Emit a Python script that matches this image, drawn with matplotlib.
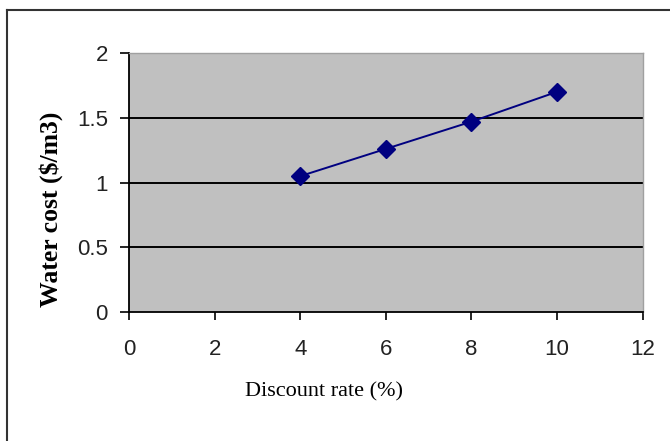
import matplotlib
matplotlib.use('Agg')
import matplotlib.pyplot as plt
from matplotlib.lines import Line2D

# discount rate (%) vs. water cost ($/m3)
rates = [4, 6, 8, 10]
costs = [1.05, 1.26, 1.47, 1.70]
x_ticks = [0, 2, 4, 6, 8, 10, 12]
y_ticks = [0, 0.5, 1, 1.5, 2]
y_labels = ['0', '0.5', '1', '1.5', '2']

tick_font = ['Liberation Sans', 'DejaVu Sans']

fig = plt.figure(figsize=(6.7, 4.41), dpi=100)
fig.patch.set_facecolor('white')
ax = fig.add_axes([0.193, 0.292, 0.766, 0.588])
ax.set_facecolor('#c0c0c0')

# horizontal gridlines in black, like the old Excel default
for y in y_ticks[1:-1]:
    ax.axhline(y, color='black', linewidth=1.4, zorder=1)

ax.plot(rates, costs, color='#000080', linewidth=1.4, marker='D',
        markersize=9.5, markerfacecolor='#000080', markeredgecolor='#000080',
        zorder=3)

ax.set_xlim(0, 12)
ax.set_ylim(0, 2)
ax.set_xticks(x_ticks)
ax.set_xticklabels([str(t) for t in x_ticks], family=tick_font, fontsize=16)
ax.set_yticks(y_ticks)
ax.set_yticklabels(y_labels, family=tick_font, fontsize=16)
ax.tick_params(axis='x', direction='out', length=6, width=1.2, pad=13,
               colors='black')
ax.tick_params(axis='y', direction='out', length=6.5, width=1.2, pad=9,
               colors='black')
for lbl in ax.get_xticklabels() + ax.get_yticklabels():
    lbl.set_color('#222222')

ax.spines['left'].set_color('black')
ax.spines['bottom'].set_color('black')
ax.spines['left'].set_linewidth(1.3)
ax.spines['bottom'].set_linewidth(1.3)
ax.spines['top'].set_color('#a0a0a0')
ax.spines['right'].set_color('#a0a0a0')
ax.spines['top'].set_linewidth(1.0)
ax.spines['right'].set_linewidth(1.0)

xl = ax.set_xlabel('Discount rate (%)', family='Liberation Serif', fontsize=16)
xl.set_va('center')
ax.xaxis.set_label_coords(0.379, -0.307)

yl = ax.set_ylabel('Water cost ($/m3)', family='Liberation Serif',
                   fontsize=18.5, fontweight='bold')
yl.set_va('center')
ax.yaxis.set_label_coords(-0.153, 0.398)

# chart frame, cut off at the right and bottom
fig.add_artist(Line2D([6.5 / 670, 1.2], [1 - 10 / 441, 1 - 10 / 441],
                      transform=fig.transFigure, color='#333333', linewidth=1.5))
fig.add_artist(Line2D([6.5 / 670, 6.5 / 670], [-0.1, 1 - 10 / 441],
                      transform=fig.transFigure, color='#333333', linewidth=1.5))

fig.savefig('out.png', dpi=100)
